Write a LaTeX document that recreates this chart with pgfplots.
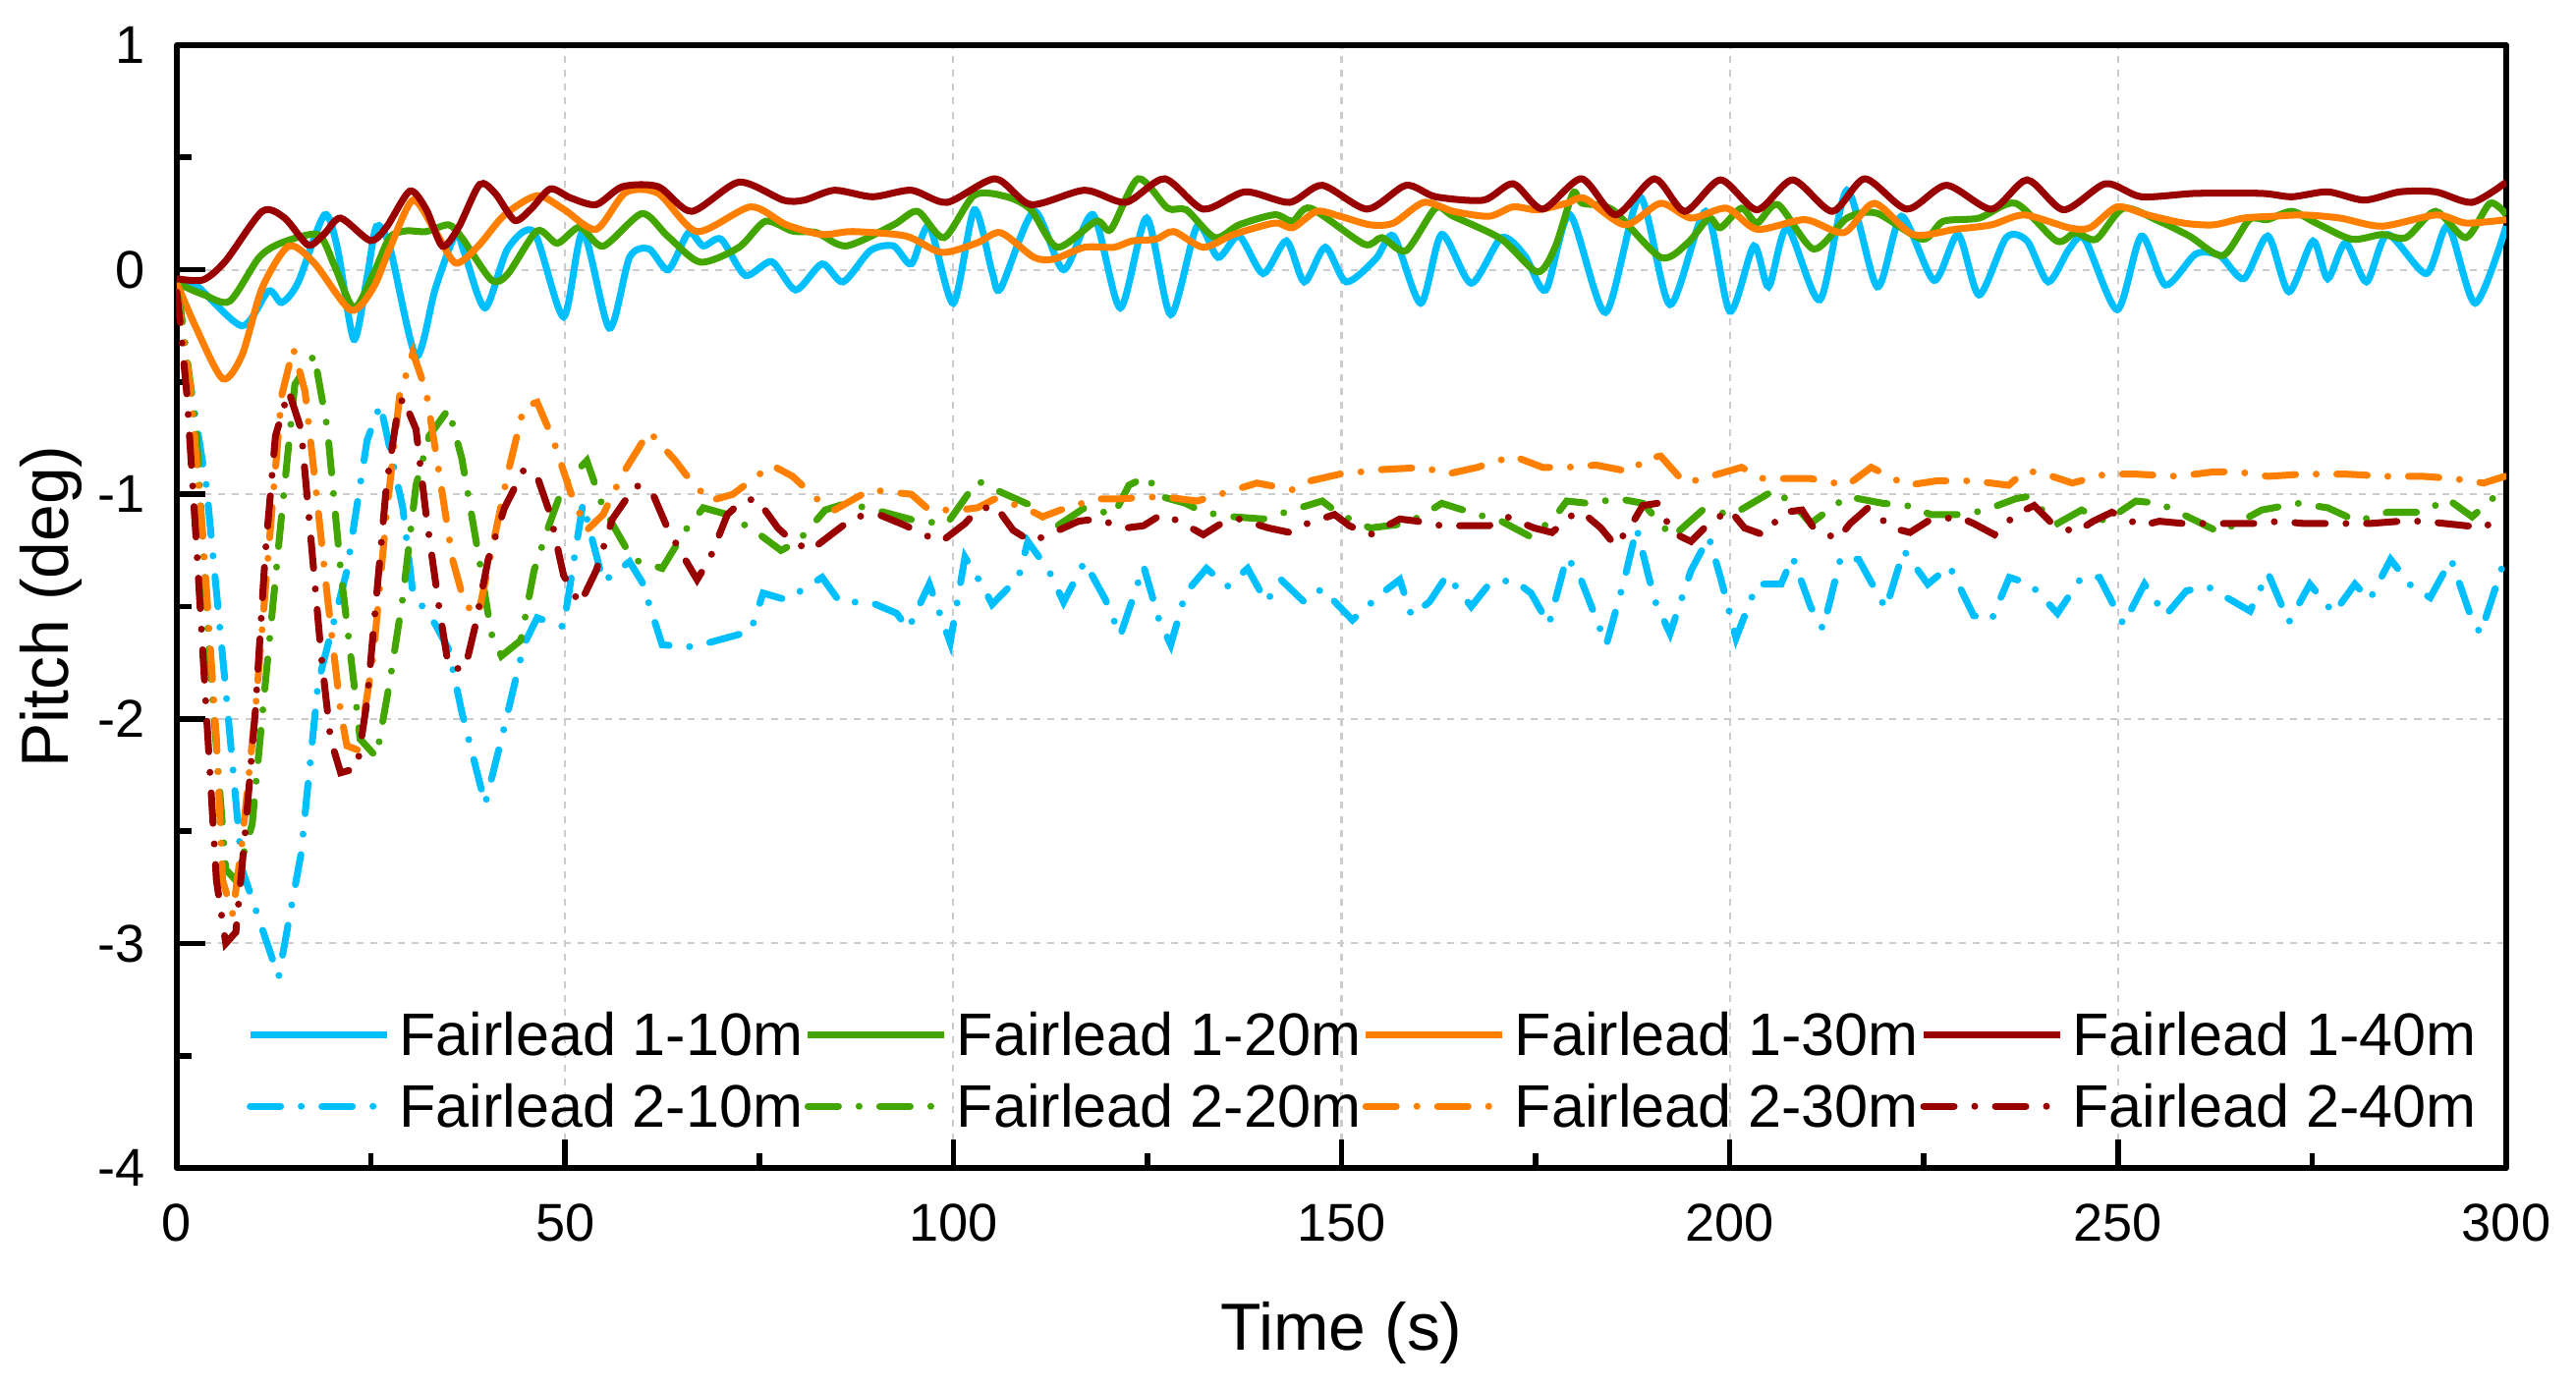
\documentclass[border=0pt]{standalone}
\usepackage{fontspec}
\setmainfont{Liberation Sans}
\usepackage{pgfplots}
\pgfplotsset{compat=1.18}
\definecolor{cblue}{HTML}{00BFFF}
\definecolor{cgreen}{HTML}{43A600}
\definecolor{corange}{HTML}{FF8000}
\definecolor{cred}{HTML}{990000}
\tikzset{dashdotref/.style={dash pattern=on 0.31cm off 0.21cm on 0cm off 0.21cm, line cap=round}}
\begin{document}
\begin{tikzpicture}
\begin{axis}[
  width=23.71cm, height=11.43cm, scale only axis,
  xmin=0, xmax=300, ymin=-4, ymax=1,
  xtick={0,50,100,150,200,250,300}, xticklabels={0,50,100,150,200,250,300},
  ytick={-4,-3,-2,-1,0,1}, yticklabels={-4,-3,-2,-1,0,1},
  minor x tick num=1, minor y tick num=1,
  tick align=inside, xtick pos=bottom, ytick pos=left,
  major tick length=0.29cm, minor tick length=0.15cm,
  every tick/.style={black, line width=1.6pt},
  axis line style={line width=1.7pt, line join=round},
  grid=major, grid style={gray!40, line width=0.6pt, dash pattern=on 2pt off 2pt},
  tick label style={font=\fontsize{15.4}{18}\selectfont},
  label style={font=\fontsize{19.3}{23}\selectfont},
  xticklabel style={inner sep=0pt, yshift=-0.36cm},
  yticklabel style={inner sep=0pt, xshift=-0.32cm},
  xlabel={Time (s)}, ylabel={Pitch (deg)},
  xlabel style={at={(axis description cs:0.5,-0.1627)}, anchor=base, inner sep=0pt},
  ylabel style={at={(axis description cs:-0.0464,0.5)}, anchor=base, inner sep=0pt},
  legend columns=4,
  legend cell align=left,
  legend style={at={(axis cs:9.0,-3.258)}, anchor=north west, draw=none, fill=none,
    inner sep=0pt, outer sep=0pt, font=\fontsize{17.4}{20}\selectfont,
    nodes={inner sep=0pt, text height=15.7pt, text depth=3.5pt}, row sep=1.6pt,
    /tikz/every odd column/.append style={column sep=0.09cm},
    /tikz/every even column/.append style={column sep=0.015cm}},
  legend image code/.code={\draw[#1] (0cm,0cm) -- (1.39cm,0cm);},
]
% Fairlead 1-10m
\addplot[cblue, line width=2pt, smooth, tension=0.45] coordinates {
(0,-0.06)(2.5,-0.07)(8.4,-0.25)(11.8,-0.095)(13.5,-0.146)(15.6,-0.058)(19,0.244)(20.7,0.093)(22.8,-0.31)(24.5,-0.033)(25.7,0.193)(27.4,0.105)(30.8,-0.384)(33.3,-0.083)(35.9,0.156)(37.1,0.068)(39.7,-0.17)(42.6,0.093)(46,0.168)(49.8,-0.21)(52.3,0.168)(55.7,-0.26)(58.3,0.055)(60.8,0.093)(63.3,0)(65.9,0.165)(67.8,0.106)(70.1,0.136)(73.2,-0.025)(76.6,0.036)(79.7,-0.09)(83.1,0.026)(85.8,-0.054)(89.3,0.085)(92.3,0.106)(94.6,0.026)(96.9,0.194)(100,-0.149)(102.7,0.267)(105,-0.01)(106.1,-0.083)(110.4,0.26)(114.2,0)(118,0.245)(121.5,-0.17)(124.9,0.23)(128,-0.20)(131.4,0.194)(134.1,0.055)(136.8,0.15)(139.9,-0.017)(142.9,0.128)(145.2,-0.054)(147.9,0.10)(150.6,-0.054)(154.4,0.048)(156.7,0.15)(160.2,-0.149)(162.9,0.157)(166.7,-0.06)(170.6,0.143)(173.6,0.063)(176.3,-0.09)(179.4,0.245)(184,-0.19)(188.4,0.325)(192.3,-0.155)(196.9,0.26)(200,-0.185)(203.1,0.106)(205,-0.076)(207.4,0.187)(211.6,-0.134)(215.1,0.354)(219,-0.076)(222.1,0.238)(226.3,-0.047)(229.4,0.157)(232.1,-0.112)(235.6,0.143)(238.3,0.128)(241,-0.054)(243.7,0.092)(245.7,0.136)(249.9,-0.178)(253,0.15)(256.1,-0.068)(260,0.07)(263.1,0.063)(266.2,-0.04)(269.3,0.15)(272,-0.098)(275.1,0.128)(277,-0.04)(279.3,0.12)(282,-0.054)(284.7,0.157)(289.7,-0.017)(292.5,0.194)(296,-0.149)(300,0.194)
};
\addlegendentry{Fairlead 1-10m}
% Fairlead 1-20m
\addplot[cgreen, line width=2pt, smooth, tension=0.45] coordinates {
(0,-0.06)(3.4,-0.11)(6.8,-0.14)(10.6,0.055)(13.5,0.12)(18.2,0.156)(20.3,0.018)(22.8,-0.17)(25.3,-0.02)(27.4,0.143)(29.5,0.173)(32.1,0.17)(35,0.2)(36.7,0.143)(40.5,-0.045)(42.6,-0.02)(46.4,0.173)(49,0.118)(51.9,0.19)(54.9,0.105)(59.9,0.25)(63.2,0.15)(67.4,0.034)(72.4,0.10)(75.8,0.216)(79.3,0.172)(82.4,0.165)(86.2,0.106)(92.3,0.20)(95.4,0.26)(98.8,0.143)(102.7,0.332)(106.9,0.325)(110,0.267)(113.4,0.10)(118.4,0.216)(120.3,0.18)(123.8,0.405)(127.6,0.274)(130,0.267)(133.7,0.143)(136.8,0.20)(141.4,0.245)(143.7,0.216)(146,0.274)(152.9,0.114)(155.2,0.143)(158.3,0.085)(162.1,0.274)(164.4,0.238)(170.6,0.136)(175.2,-0.01)(177.5,0.10)(179.8,0.34)(181,0.296)(184.9,0.267)(191.1,0.055)(194.6,0.12)(197.3,0.23)(198.8,0.187)(201.5,0.274)(203.5,0.208)(206.2,0.29)(210.8,0.092)(215.1,0.23)(218.9,0.252)(224.8,0.136)(227.5,0.216)(232.1,0.23)(236.8,0.296)(242.1,0.128)(244.5,0.165)(247.2,0.136)(250.7,0.274)(255.3,0.216)(259.2,0.15)(263.5,0.063)(266.9,0.223)(269.2,0.223)(272.4,0.26)(275.5,0.208)(280.1,0.136)(284,0.157)(287.1,0.143)(290.9,0.26)(294.8,0.143)(297.9,0.296)(300,0.245)
};
\addlegendentry{Fairlead 1-20m}
% Fairlead 1-30m
\addplot[corange, line width=2pt, smooth, tension=0.45] coordinates {
(0,-0.06)(2.5,-0.26)(5.9,-0.485)(8.4,-0.38)(11,-0.08)(14.4,0.105)(17.7,0.03)(22.4,-0.18)(25.3,-0.08)(27.4,0.093)(30.4,0.31)(33.3,0.17)(35.9,0.03)(38.8,0.105)(42.2,0.244)(46.4,0.33)(49.8,0.27)(54,0.18)(57.8,0.344)(62,0.34)(67,0.17)(73.9,0.28)(78.5,0.20)(83.1,0.157)(87,0.17)(93.9,0.15)(98.5,0.077)(103.1,0.12)(106.1,0.165)(110.4,0.055)(113,0.048)(116.9,0.10)(120.7,0.10)(123,0.128)(126.1,0.136)(128.4,0.17)(132.2,0.10)(136.1,0.157)(141.4,0.208)(143.7,0.187)(146.8,0.26)(149.8,0.238)(153.7,0.20)(156.7,0.208)(160.6,0.30)(164.4,0.26)(169,0.238)(172.1,0.28)(175.2,0.267)(179,0.296)(181.3,0.318)(186.5,0.20)(191.1,0.296)(195,0.23)(199.6,0.274)(203.5,0.18)(209.7,0.223)(214.7,0.165)(218.6,0.296)(223.6,0.157)(229,0.18)(233.7,0.20)(237.9,0.244)(243.7,0.187)(246.4,0.187)(249.9,0.28)(253.8,0.244)(258.4,0.208)(262.3,0.20)(266.2,0.23)(270,0.238)(273.9,0.244)(278.6,0.23)(284,0.194)(291,0.244)(294.8,0.208)(300,0.223)
};
\addlegendentry{Fairlead 1-30m}
% Fairlead 1-40m
\addplot[cred, line width=2pt, smooth, tension=0.45] coordinates {
(0,-0.04)(3.4,-0.045)(6.3,0.04)(11,0.26)(13.9,0.23)(16.9,0.11)(19,0.16)(21.1,0.23)(24.9,0.13)(27,0.19)(30,0.35)(32.1,0.27)(34.2,0.105)(36.3,0.19)(39,0.38)(41,0.34)(43.5,0.22)(45.6,0.27)(48.1,0.36)(50.7,0.32)(54,0.29)(57.4,0.37)(62,0.37)(66.3,0.26)(72.4,0.39)(78.1,0.31)(80.8,0.31)(84.7,0.354)(89.6,0.325)(94.6,0.354)(99.2,0.30)(105.4,0.405)(110,0.29)(116.9,0.354)(122.2,0.30)(127.2,0.405)(132.2,0.27)(137.6,0.347)(143.3,0.30)(147.5,0.376)(153.3,0.27)(158.3,0.376)(162.1,0.325)(168.3,0.31)(172.1,0.383)(175.9,0.27)(180.9,0.405)(185.3,0.245)(190.3,0.405)(194.2,0.26)(198.8,0.40)(203.5,0.267)(208.1,0.40)(213.2,0.26)(217.4,0.405)(222.8,0.27)(227.9,0.376)(233.7,0.27)(238.3,0.40)(243,0.267)(248.4,0.383)(253,0.325)(260,0.34)(268.5,0.34)(272.4,0.325)(277,0.347)(281.7,0.31)(286.3,0.347)(290.9,0.347)(295.6,0.30)(300,0.39)
};
\addlegendentry{Fairlead 1-40m}
% Fairlead 2-10m
\addplot[cblue, line width=2pt, dashdotref] coordinates {
(0,-0.1)(0.8,-0.31)(3.8,-0.96)(6.3,-1.87)(8.4,-2.67)(13.1,-3.15)(16,-2.6)(18.2,-1.84)(21.9,-1.34)(24.5,-0.76)(26.2,-0.6)(29.1,-1.06)(30.4,-1.44)(33.3,-1.58)(35,-1.69)(36.7,-1.97)(39.7,-2.38)(41.8,-2.09)(44.7,-1.67)(46.4,-1.55)(49.8,-1.59)(52.3,-1.04)(54.9,-1.39)(58.3,-1.30)(59.9,-1.39)(62.5,-1.67)(65.8,-1.68)(68.6,-1.66)(73.9,-1.61)(75.5,-1.44)(78.5,-1.47)(80.8,-1.42)(83.1,-1.37)(85.4,-1.48)(89.3,-1.48)(92.7,-1.53)(94.2,-1.60)(96.9,-1.40)(99.6,-1.66)(101.5,-1.28)(103.8,-1.41)(105,-1.49)(108.4,-1.37)(109.6,-1.21)(112.3,-1.34)(114.2,-1.48)(116.9,-1.30)(119.6,-1.47)(121.5,-1.63)(124.5,-1.32)(126.5,-1.56)(128,-1.67)(129.9,-1.44)(132.6,-1.33)(135.3,-1.41)(137.9,-1.33)(140.3,-1.48)(142.2,-1.38)(145.2,-1.48)(147.5,-1.42)(151.4,-1.56)(155.2,-1.44)(157.5,-1.38)(159,-1.54)(161.3,-1.48)(163.6,-1.36)(166.7,-1.50)(169,-1.40)(172.1,-1.38)(174.4,-1.44)(176.7,-1.58)(179,-1.28)(180.5,-1.35)(184.1,-1.67)(186.5,-1.37)(188,-1.15)(190.3,-1.47)(192.3,-1.62)(195,-1.34)(197.3,-1.19)(198.8,-1.37)(200.8,-1.64)(203.5,-1.40)(206.6,-1.40)(208.1,-1.28)(210.4,-1.50)(212,-1.60)(214.3,-1.28)(216.6,-1.29)(220.1,-1.51)(222.4,-1.25)(225.5,-1.40)(228.3,-1.32)(231.4,-1.54)(233.7,-1.56)(236,-1.37)(238.7,-1.40)(242.2,-1.53)(245.3,-1.37)(247.6,-1.37)(250.7,-1.58)(253.4,-1.40)(256.1,-1.54)(258.8,-1.43)(261.5,-1.41)(267,-1.52)(269.3,-1.35)(272,-1.57)(274.7,-1.40)(277.8,-1.53)(280.5,-1.40)(282.4,-1.47)(285.1,-1.29)(287.8,-1.41)(290.2,-1.46)(292.9,-1.29)(295.6,-1.56)(296.7,-1.62)(299.5,-1.32)
};
\addlegendentry{Fairlead 2-10m}
% Fairlead 2-20m
\addplot[cgreen, line width=2pt, dashdotref] coordinates {
(0,-0.1)(0.5,-0.18)(2.5,-0.71)(4.2,-1.72)(6.3,-2.67)(7.6,-2.72)(9.7,-2.47)(11.4,-1.84)(13.5,-1.09)(15.2,-0.51)(17.7,-0.38)(19.4,-0.71)(21.1,-1.34)(22.8,-1.84)(23.6,-2.09)(25.7,-2.17)(27.4,-1.84)(29.1,-1.46)(30.8,-0.96)(32.5,-0.74)(35,-0.62)(36.7,-0.84)(38.8,-1.26)(40.5,-1.62)(41.8,-1.72)(44.3,-1.65)(46,-1.34)(47.7,-1.16)(49.8,-0.96)(52.8,-0.85)(54.9,-1.06)(58.7,-1.29)(62.5,-1.33)(65.5,-1.16)(67.8,-1.06)(70.9,-1.09)(74.7,-1.17)(77.8,-1.25)(80,-1.21)(83.5,-1.07)(86.2,-1.04)(90,-1.07)(95.4,-1.12)(99.2,-1.13)(103.1,-0.94)(106.1,-0.99)(110,-1.05)(113,-1.15)(116.9,-1.06)(120.7,-1.09)(122.6,-0.96)(124.9,-0.92)(126.8,-1.01)(129.9,-1.04)(132.2,-1.08)(136,-1.10)(139.9,-1.11)(143.7,-1.07)(147.5,-1.03)(149.8,-1.09)(153.7,-1.15)(158.3,-1.13)(160.6,-1.09)(162.9,-1.04)(167.5,-1.09)(170.6,-1.12)(174.4,-1.19)(177.5,-1.10)(179,-1.03)(181.7,-1.04)(185.7,-1.02)(188.8,-1.04)(192.6,-1.19)(196.5,-1.07)(200.4,-1.09)(205.8,-0.98)(208.9,-1.07)(210.4,-1.13)(215.1,-1.01)(219.7,-1.04)(222.8,-1.05)(225.9,-1.09)(230.6,-1.09)(233.7,-1.06)(236.8,-1.02)(238.3,-1.01)(242.2,-1.13)(245.3,-1.07)(248.4,-1.12)(252.3,-1.03)(255.3,-1.04)(258.4,-1.09)(263.1,-1.17)(268.5,-1.07)(273.1,-1.04)(277,-1.06)(280.8,-1.12)(284.7,-1.08)(289.3,-1.08)(292.4,-1.02)(295.6,-1.10)(299.5,-0.98)
};
\addlegendentry{Fairlead 2-20m}
% Fairlead 2-30m
\addplot[corange, line width=2pt, dashdotref] coordinates {
(0,-0.1)(0.3,-0.18)(1.7,-0.51)(3.4,-1.21)(5.1,-2.09)(5.9,-2.72)(7.2,-2.87)(8.4,-2.55)(10.1,-1.97)(12.2,-1.09)(13.5,-0.56)(15,-0.35)(16.5,-0.54)(17.7,-0.91)(19.4,-1.46)(21.1,-1.97)(21.9,-2.12)(23.4,-2.14)(25.3,-1.72)(27,-1.09)(28.7,-0.56)(30.4,-0.37)(32.1,-0.54)(33.8,-0.91)(35.5,-1.29)(37.1,-1.49)(38.8,-1.54)(40.5,-1.26)(42.6,-0.91)(44.7,-0.61)(46.4,-0.59)(48.5,-0.76)(50.7,-0.99)(52.8,-1.16)(54.9,-1.09)(57.4,-0.91)(60.8,-0.72)(64.2,-0.85)(65.5,-0.91)(68.6,-1.03)(71.6,-1.00)(76.6,-0.87)(79.3,-0.92)(82.4,-1.02)(84.7,-1.07)(89.3,-0.98)(94.6,-1.00)(96.9,-1.07)(100.8,-1.07)(103.1,-1.06)(105.4,-1.02)(109.2,-1.06)(111.5,-1.10)(113.8,-1.07)(118.4,-1.02)(121.5,-1.02)(126.8,-1.01)(131.4,-1.03)(135.3,-0.99)(139.1,-0.95)(143.7,-0.98)(146,-0.94)(149.8,-0.91)(155.2,-0.89)(160.6,-0.88)(163.6,-0.91)(167.5,-0.88)(172.1,-0.83)(175.9,-0.88)(179,-0.88)(182.8,-0.87)(187.2,-0.90)(189.2,-0.84)(191.1,-0.83)(194.2,-0.95)(196.5,-0.93)(201.5,-0.88)(204.3,-0.93)(210.4,-0.93)(215.1,-0.96)(218.2,-0.88)(222.8,-0.96)(226.7,-0.94)(231.4,-0.94)(235.9,-0.96)(237.9,-0.90)(239.8,-0.90)(244.1,-0.95)(248.4,-0.91)(252.2,-0.91)(257.7,-0.92)(262.3,-0.90)(265.4,-0.90)(269.3,-0.92)(273.9,-0.91)(279.3,-0.91)(284.7,-0.92)(289.3,-0.92)(293.2,-0.93)(297.1,-0.95)(299.8,-0.92)
};
\addlegendentry{Fairlead 2-30m}
% Fairlead 2-40m
\addplot[cred, line width=2pt, dashdotref] coordinates {
(0,-0.1)(0.4,-0.23)(1.3,-0.56)(2.5,-1.21)(3.8,-1.97)(5.1,-2.72)(6.3,-3.0)(7.6,-2.95)(8.9,-2.47)(10.1,-1.97)(11.4,-1.26)(12.7,-0.74)(14.4,-0.54)(16,-0.71)(17.3,-1.21)(18.6,-1.72)(19.8,-2.09)(21.1,-2.24)(23.2,-2.22)(24.5,-1.92)(25.7,-1.46)(27,-0.96)(28.3,-0.66)(29.1,-0.57)(30.8,-0.71)(32.1,-1.09)(33.8,-1.51)(35,-1.77)(37.1,-1.78)(38.4,-1.59)(40.1,-1.29)(42.2,-1.06)(44.7,-0.89)(46.4,-0.92)(48.1,-1.09)(49.8,-1.36)(51.9,-1.49)(54,-1.34)(56.1,-1.11)(59.1,-0.96)(61.2,-0.99)(63.3,-1.16)(65.8,-1.31)(67,-1.38)(68.6,-1.29)(70.9,-1.09)(72.8,-1.03)(74.7,-1.02)(77.4,-1.15)(79.3,-1.21)(81.6,-1.25)(85,-1.16)(87.3,-1.10)(90.4,-1.09)(93.9,-1.14)(96.2,-1.18)(98.5,-1.21)(101.5,-1.13)(103.1,-1.07)(105.4,-1.05)(107.7,-1.16)(110,-1.21)(112.3,-1.18)(116.1,-1.12)(118.4,-1.11)(122.2,-1.15)(124.5,-1.14)(126.8,-1.09)(129.1,-1.12)(132.2,-1.18)(134.5,-1.13)(136.8,-1.11)(140.6,-1.15)(143.3,-1.17)(145.6,-1.13)(149.1,-1.09)(151,-1.14)(153.7,-1.18)(157.5,-1.11)(159.8,-1.12)(162.9,-1.14)(166,-1.14)(169,-1.14)(171.3,-1.10)(174.8,-1.15)(177.1,-1.17)(179.8,-1.09)(181,-1.08)(183.4,-1.15)(185.3,-1.23)(187.6,-1.12)(188.8,-1.05)(190.7,-1.04)(192.6,-1.17)(195,-1.21)(197.3,-1.13)(200,-1.07)(201.9,-1.15)(204.3,-1.18)(207,-1.08)(209.3,-1.07)(210.8,-1.15)(213.9,-1.20)(215.5,-1.13)(217.8,-1.06)(220.9,-1.15)(223.2,-1.17)(225.5,-1.12)(229.4,-1.10)(231.4,-1.13)(234.1,-1.18)(236.8,-1.09)(239.2,-1.05)(241.5,-1.13)(244.5,-1.17)(246.8,-1.12)(249.2,-1.08)(253,-1.14)(255.3,-1.12)(258.4,-1.13)(262.3,-1.13)(267.7,-1.13)(270.8,-1.12)(273.9,-1.13)(277.8,-1.13)(282.4,-1.13)(286.3,-1.12)(289.3,-1.12)(294.8,-1.14)(297.1,-1.15)(299.5,-1.09)
};
\addlegendentry{Fairlead 2-40m}
\end{axis}
\pgfresetboundingbox
\path (current axis.south west) ++(-1.80cm,-2.23cm) rectangle ([shift={(0.71cm,0.46cm)}]current axis.north east);
\end{tikzpicture}
\end{document}
